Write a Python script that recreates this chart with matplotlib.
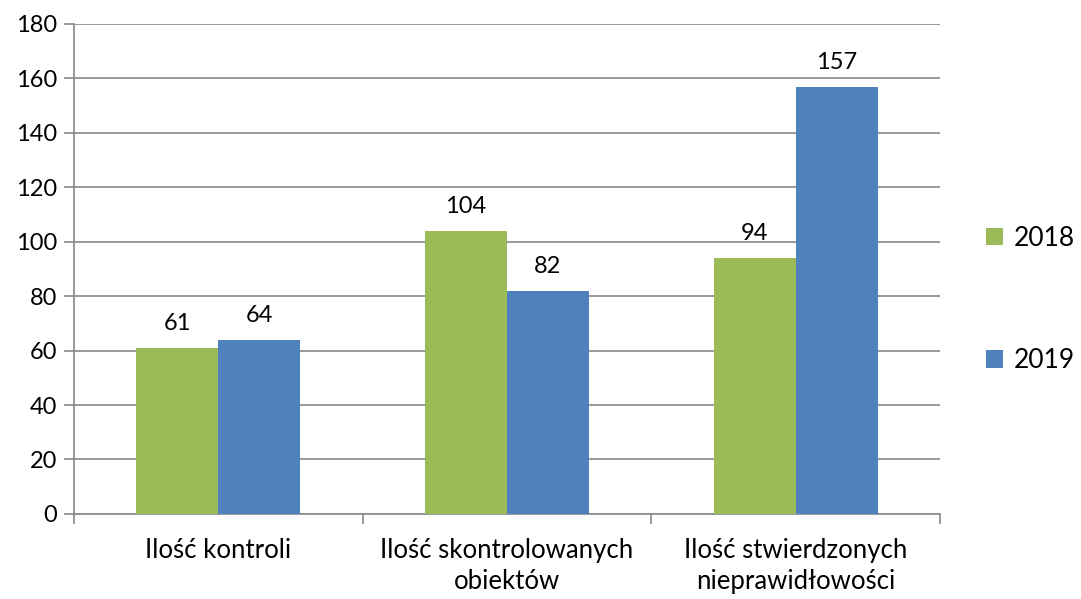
import numpy as np
import matplotlib.pyplot as plt

categories = ['Ilość kontroli', 'Ilość skontrolowanych\nobiektów', 'Ilość stwierdzonych\nnieprawidłowości']
series = ['2018', '2019']
values_2018 = [61, 104, 94]
values_2019 = [64, 82, 157]
colors = ['#9BBB59', '#4F81BD']

plt.rcParams['font.family'] = ['Lato', 'DejaVu Sans']

fig = plt.figure(figsize=(10.81, 5.99), dpi=100)
ax = fig.add_axes([0.0685, 0.142, 0.801, 0.818])

x = np.arange(len(categories))
w = 0.284
for i, (vals, name) in enumerate(zip([values_2018, values_2019], series)):
    pos = x + (i - 0.5) * w
    bars = ax.bar(pos, vals, w, color=colors[i], label=name, zorder=3)
    for b, v in zip(bars, vals):
        ax.annotate(str(v), (b.get_x() + b.get_width() / 2, v), xytext=(0, 10),
                    textcoords='offset points', ha='center', va='bottom', fontsize=17)

ax.set_xlim(-0.5, len(categories) - 0.5)
ax.set_ylim(0, 180)
ax.set_yticks(range(0, 181, 20))
ax.yaxis.grid(True, color='#888888', linewidth=1.2, zorder=0)
ax.set_xticks(x)
ax.set_xticklabels(categories, fontsize=18.5, linespacing=1.3)
ax.tick_params(axis='x', length=0, pad=17)
ax.set_xticks(np.arange(-0.5, len(categories)), minor=True)
ax.tick_params(axis='x', which='minor', length=7, color='#888888', width=1.2)
ax.tick_params(axis='y', length=7, color='#888888', width=1.2, labelsize=17, pad=5)
for s in ['top', 'right']:
    ax.spines[s].set_visible(False)
for s in ['left', 'bottom']:
    ax.spines[s].set_color('#888888')
    ax.spines[s].set_linewidth(1.2)

fig.legend(loc='center left', bbox_to_anchor=(0.89, 0.5), frameon=False, fontsize=19,
           handlelength=0.65, handleheight=0.65, handletextpad=0.4, labelspacing=3.7)

fig.savefig('out.png', dpi=100)
